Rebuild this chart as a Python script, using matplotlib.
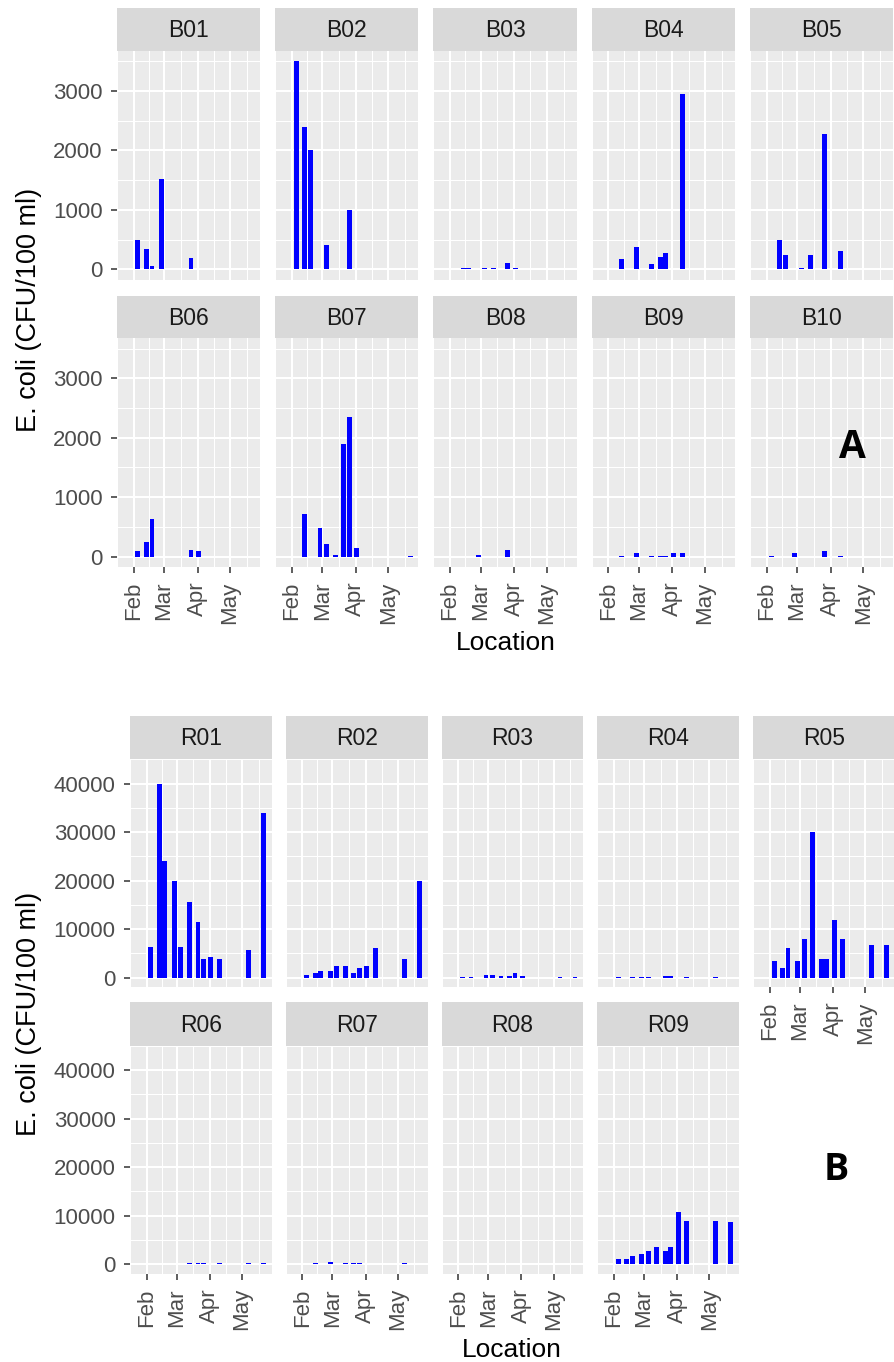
import datetime as dt

import matplotlib
matplotlib.use('Agg')
from matplotlib import pyplot as plt
import numpy as np

plt.rcParams['font.family'] = ['Liberation Sans', 'DejaVu Sans']

# sampling dates (2019)
sample_dates = ['2019-02-05', '2019-02-13', '2019-02-18', '2019-02-27',
                '2019-03-05', '2019-03-13', '2019-03-21', '2019-03-26',
                '2019-04-02', '2019-04-10', '2019-05-07', '2019-05-21']

# beach sites, E. coli (CFU/100 ml), None = not sampled
b01 = [500, 340, 55, 1510, None, None, None, 185, None, None, None, None]
b02 = [3500, 2400, 2000, None, 400, None, None, 1000, None, None, None, None]
b03 = [None, 20, 20, None, 15, 15, None, 110, 15, None, None, None]
b04 = [None, 180, None, 370, None, 85, 210, 270, None, 2950, None, None]
b05 = [None, 500, 240, None, 20, 240, None, 2280, None, 310, None, None]
b06 = [90, 250, 630, None, None, None, None, 120, 90, None, None, None]
b07 = [None, 720, None, 480, 210, 30, 1900, 2350, 150, None, None, 20]
b08 = [None, None, None, 25, None, None, None, 120, None, None, None, None]
b09 = [None, 20, None, 55, None, 20, 20, 20, 55, 55, None, None]
b10 = [20, None, None, 60, None, None, None, 95, None, 20, None, None]

# river sites
r01 = [6400, 40000, 24000, 20000, 6400, 15500, 11500, 3900, 4200, 3900, 5700, 34000]
r02 = [600, 1000, 1300, 1300, 2400, 2400, 1000, 2000, 2400, 6000, 3900, 20000]
r03 = [200, 200, None, 550, 500, 300, 300, 900, 300, None, 200, 200]
r04 = [200, None, 200, 200, 200, None, 300, 300, None, 200, 200, None]
r05 = [3500, 2000, 6000, 3500, 7900, 30000, 3900, 3900, 11900, 7900, 6800, 6800]
r06 = [None, None, None, None, None, 250, 250, 250, None, 250, 250, 250]
r07 = [None, 250, None, 500, None, 250, 250, 250, None, None, 250, None]
r08 = [None] * 12
r09 = [1000, 1000, 1700, 2100, 2800, 3500, 2800, 3500, 10800, 9000, 9000, 8600]

beach_sites = ['B01', 'B02', 'B03', 'B04', 'B05', 'B06', 'B07', 'B08', 'B09', 'B10']
beach_counts = [b01, b02, b03, b04, b05, b06, b07, b08, b09, b10]
river_sites = ['R01', 'R02', 'R03', 'R04', 'R05', 'R06', 'R07', 'R08', 'R09']
river_counts = [r01, r02, r03, r04, r05, r06, r07, r08, r09]

beach_yticks = [0, 1000, 2000, 3000]
river_yticks = [0, 10000, 20000, 30000, 40000]
month_labels = ['Feb', 'Mar', 'Apr', 'May']

W, H = 894, 1362
BAR_W = 4.5  # days
dates = np.array([np.datetime64(d) for d in sample_dates])
month_starts = np.array(['2019-01-01', '2019-02-01', '2019-03-01', '2019-04-01',
                         '2019-05-01', '2019-06-01'], dtype='datetime64[D]')
month_num = matplotlib.dates.date2num(month_starts)
major_x = month_num[1:5]
minor_x = (month_num[:-1] + month_num[1:]) / 2

date_num = matplotlib.dates.date2num(dates)
lo = date_num.min() - BAR_W / 2
hi = date_num.max() + BAR_W / 2
xlim = (lo - 0.05 * (hi - lo), hi + 0.05 * (hi - lo))

TICK_COL = '#4D4D4D'


def px_rect(x, y, w, h):
    return [x / W, 1 - (y + h) / H, w / W, h / H]


def draw_panel(fig, x, y, w, strip_h, panel_h, label, values, yticks, show_x, show_y):
    s = fig.add_axes(px_rect(x, y, w, strip_h))
    s.set_facecolor('#D9D9D9')
    s.set_xticks([])
    s.set_yticks([])
    for sp in s.spines.values():
        sp.set_visible(False)
    s.text(0.5, 0.47, label, ha='center', va='center', fontsize=16.5,
           color='#1A1A1A', transform=s.transAxes)

    ax = fig.add_axes(px_rect(x, y + strip_h, w, panel_h))
    ax.set_facecolor('#EBEBEB')
    for sp in ax.spines.values():
        sp.set_visible(False)
    vals = np.array([np.nan if v is None else v for v in values], dtype=float)
    ok = ~np.isnan(vals)
    ax.bar(date_num[ok], vals[ok], width=BAR_W, color='#0000FF', linewidth=0, zorder=3)

    ymax = yticks[-1] if yticks[-1] > 3000 else 3500
    ax.set_ylim(-0.05 * ymax, 1.05 * ymax)
    ax.set_xlim(*xlim)
    step = yticks[1] - yticks[0]
    ax.set_yticks(yticks)
    ax.set_yticks([t + step / 2 for t in yticks], minor=True)
    ax.set_xticks(major_x)
    ax.set_xticks(minor_x, minor=True)
    ax.grid(which='major', color='white', linewidth=1.5, zorder=0)
    ax.grid(which='minor', color='white', linewidth=0.75, zorder=0)
    ax.set_axisbelow(True)
    ax.tick_params(which='minor', length=0)
    ax.tick_params(which='major', length=4.3, width=1.1, color='#333333',
                   labelsize=16, labelcolor=TICK_COL, pad=6)
    if show_y:
        ax.set_yticklabels([str(t) for t in yticks])
    else:
        ax.tick_params(axis='y', which='major', length=0, labelleft=False)
    if show_x:
        ax.set_xticklabels(month_labels, rotation=90, va='top', ha='center')
    else:
        ax.tick_params(axis='x', which='major', length=0, labelbottom=False)
    return ax


fig = plt.figure(figsize=(W / 100, H / 100), dpi=100)

# section A: beaches
a_left, a_pitch, a_w = 116.7, 158.3, 143.5
a_rows = [8.3, 295.7]
for i, (site, vals) in enumerate(zip(beach_sites, beach_counts)):
    r, c = divmod(i, 5)
    draw_panel(fig, a_left + c * a_pitch, a_rows[r], a_w, 42.4, 229.0,
               site, vals, beach_yticks, show_x=(r == 1), show_y=(c == 0))

# section B: rivers
b_left, b_pitch, b_w = 130.0, 155.8, 141.7
b_rows = [715.7, 1002.3]
for i, (site, vals) in enumerate(zip(river_sites, river_counts)):
    r, c = divmod(i, 5)
    draw_panel(fig, b_left + c * b_pitch, b_rows[r], b_w, 43.6, 228.0,
               site, vals, river_yticks, show_x=(r == 1 or c == 4), show_y=(c == 0))

ylab = 'E. coli (CFU/100 ml)'
fig.text(28.5 / W, 1 - 310 / H, ylab, rotation=90, ha='center', va='center', fontsize=19.5)
fig.text(28.5 / W, 1 - 1014 / H, ylab, rotation=90, ha='center', va='center', fontsize=19.5)
fig.text(506 / W, 1 - 643 / H, 'Location', ha='center', va='center', fontsize=19)
fig.text(512 / W, 1 - 1350 / H, 'Location', ha='center', va='center', fontsize=19)

fig.text(852 / W, 1 - 447 / H, 'A', ha='center', va='center', fontsize=28,
         fontweight='bold', family=['Open Sans', 'DejaVu Sans'])
fig.text(836 / W, 1 - 1170 / H, 'B', ha='center', va='center', fontsize=27,
         fontweight='bold', family=['Open Sans', 'DejaVu Sans'])

fig.savefig('out.png', dpi=100)
